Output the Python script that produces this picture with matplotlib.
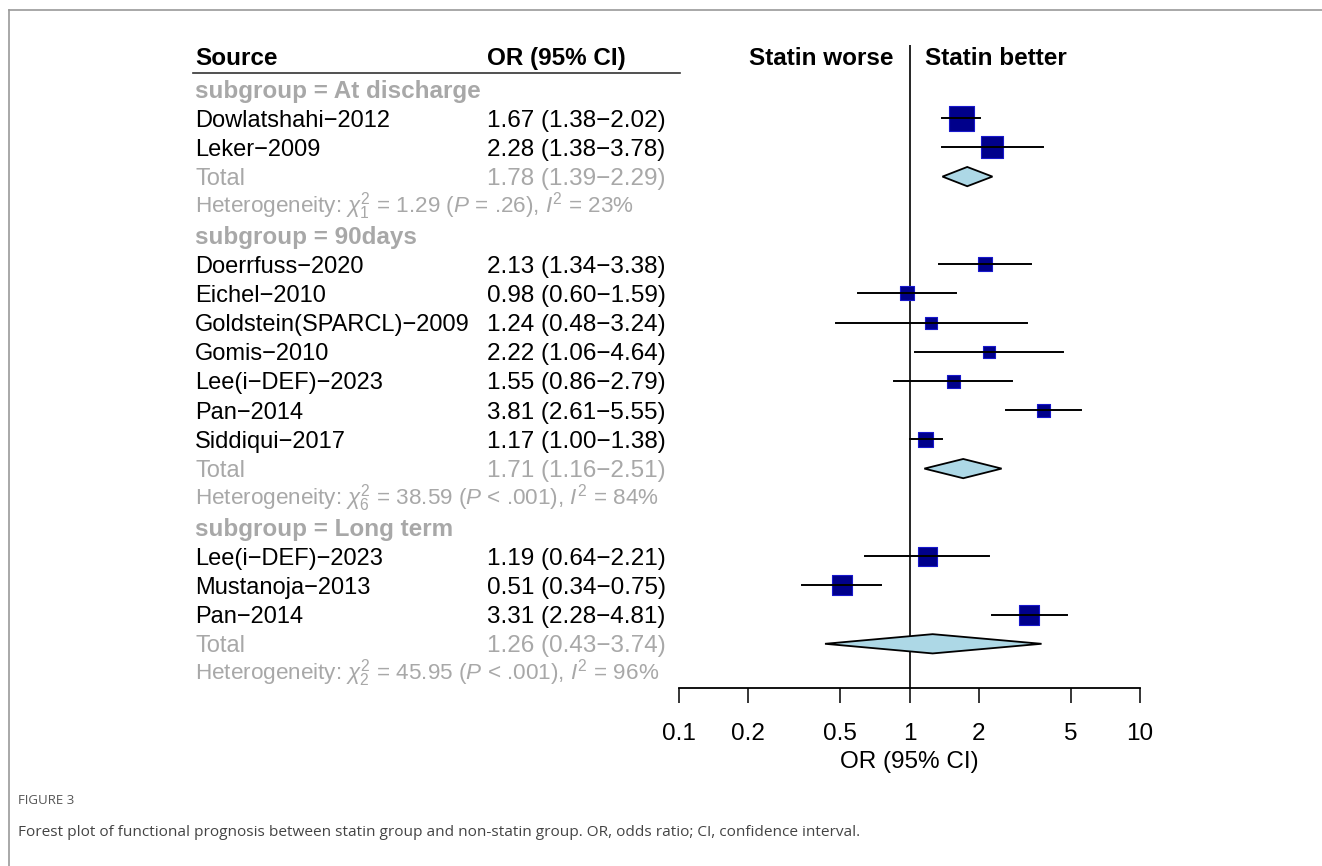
import matplotlib
matplotlib.use("Agg")
import matplotlib.pyplot as plt
from matplotlib.lines import Line2D
from matplotlib.patches import Polygon
from matplotlib.transforms import blended_transform_factory
import numpy as np

plt.rcParams['font.family'] = ['Liberation Sans', 'DejaVu Sans']
plt.rcParams['mathtext.fontset'] = 'custom'
plt.rcParams['mathtext.rm'] = 'Liberation Sans'
plt.rcParams['mathtext.it'] = 'Liberation Sans:italic'
plt.rcParams['mathtext.bf'] = 'Liberation Sans:bold'

# ---------------- data ----------------
subgroups = ["subgroup = At discharge", "subgroup = 90days", "subgroup = Long term"]
study_names = [
    ["Dowlatshahi\u22122012", "Leker\u22122009"],
    ["Doerrfuss\u22122020", "Eichel\u22122010", "Goldstein(SPARCL)\u22122009",
     "Gomis\u22122010", "Lee(i\u2212DEF)\u22122023", "Pan\u22122014", "Siddiqui\u22122017"],
    ["Lee(i\u2212DEF)\u22122023", "Mustanoja\u22122013", "Pan\u22122014"],
]
study_or = [[1.67, 2.28], [2.13, 0.98, 1.24, 2.22, 1.55, 3.81, 1.17], [1.19, 0.51, 3.31]]
study_lo = [[1.38, 1.38], [1.34, 0.60, 0.48, 1.06, 0.86, 2.61, 1.00], [0.64, 0.34, 2.28]]
study_hi = [[2.02, 3.78], [3.38, 1.59, 3.24, 4.64, 2.79, 5.55, 1.38], [2.21, 0.75, 4.81]]
# relative box size (weight), in pixels of box side
study_box = [[25, 23], [14, 14, 12, 12, 13, 13, 15], [19, 20, 20]]
total_or = [1.78, 1.71, 1.26]
total_lo = [1.39, 1.16, 0.43]
total_hi = [2.29, 2.51, 3.74]
het_df = [1, 6, 2]
het_chi = ["1.29", "38.59", "45.95"]
het_p = ["= .26", "< .001", "< .001"]
het_i2 = [23, 84, 96]
xticks = [0.1, 0.2, 0.5, 1, 2, 5, 10]
xticklabels = ["0.1", "0.2", "0.5", "1", "2", "5", "10"]

# ---------------- figure ----------------
W, H = 1322, 866
fig = plt.figure(figsize=(W / 100, H / 100), dpi=100)

row0_px, row_h = 89.0, 29.2
top_px, bot_px = 45.0, 688.0
x01_px, x10_px = 679.0, 1140.0
ax = fig.add_axes([x01_px / W, 1 - bot_px / H, (x10_px - x01_px) / W, (bot_px - top_px) / H])
ax.set_xscale('log')
ax.set_xlim(0.1, 10)
ax.set_ylim((bot_px - row0_px) / row_h, (top_px - row0_px) / row_h)
for s in ['top', 'right', 'left']:
    ax.spines[s].set_visible(False)
ax.spines['bottom'].set_linewidth(1.3)
ax.set_yticks([])
ax.set_xticks(xticks)
ax.set_xticklabels(xticklabels)
ax.minorticks_off()
ax.tick_params(axis='x', direction='out', length=10.5, width=1.1, pad=15, labelsize=17.5)
ax.set_xlabel("OR (95% CI)", fontsize=17.5, labelpad=4)
ax.axvline(1, color='black', lw=1.2, zorder=1)

FS = 17
FS_HET = 16.2
GRAY = '#A8A8A8'
VA = 'center_baseline'
tr = blended_transform_factory(fig.transFigure, ax.transData)
xname = 195 / W
xor = 487 / W

# header
hy = -1.03
ax.text(xname, hy, "Source", transform=tr, fontsize=17.5, fontweight='bold', va='center', ha='left')
ax.text(xor, hy, "OR (95% CI)", transform=tr, fontsize=17.5, fontweight='bold', va='center', ha='left')
fig.add_artist(Line2D([193 / W, 680 / W], [1 - 72.5 / H, 1 - 72.5 / H], color='#333333', lw=1.2))
ax.text(893 / W, hy, "Statin worse", transform=tr, fontsize=17.5, fontweight='bold', va='center', ha='right')
ax.text(925 / W, hy, "Statin better", transform=tr, fontsize=17.5, fontweight='bold', va='center', ha='left')

row = 0
for g in range(len(subgroups)):
    ax.text(xname, row, subgroups[g], transform=tr, fontsize=17.5, fontweight='bold',
            color=GRAY, va=VA, ha='left')
    row += 1
    for i, name in enumerate(study_names[g]):
        o, lo, hi = study_or[g][i], study_lo[g][i], study_hi[g][i]
        ax.text(xname, row, name, transform=tr, fontsize=FS, va=VA, ha='left')
        ax.text(xor, row, f"{o:.2f} ({lo:.2f}\u2212{hi:.2f})", transform=tr, fontsize=17.5,
                va=VA, ha='left')
        side_pt = study_box[g][i] * 0.72
        ax.scatter([o], [row], marker='s', s=side_pt ** 2, facecolor='#00008B',
                   edgecolor='#1818CC', linewidth=0.8, zorder=3)
        ax.plot([lo, hi], [row, row], color='black', lw=1.4, zorder=4)
        row += 1
    # total
    ax.text(xname, row, "Total", transform=tr, fontsize=FS, color=GRAY, va=VA, ha='left')
    ax.text(xor, row, f"{total_or[g]:.2f} ({total_lo[g]:.2f}\u2212{total_hi[g]:.2f})",
            transform=tr, fontsize=17.5, color=GRAY, va=VA, ha='left')
    h = 0.33
    diamond = Polygon([[total_lo[g], row], [total_or[g], row - h], [total_hi[g], row],
                       [total_or[g], row + h]], closed=True, facecolor='#ADD8E6',
                      edgecolor='black', lw=1.3, zorder=3)
    ax.add_patch(diamond)
    row += 1
    het = (r"Heterogeneity: $\chi^2_{%d}$ = %s ($P$ %s), $I^2$ = %d%%"
           % (het_df[g], het_chi[g], het_p[g], het_i2[g]))
    ax.text(xname, row, het, transform=tr, fontsize=FS_HET, color=GRAY, va='center', ha='left')
    row += 1

# figure frame and caption
fig.add_artist(Line2D([9 / W, 1], [1 - 10 / H, 1 - 10 / H], color='#9A9A9A', lw=1.2))
fig.add_artist(Line2D([9 / W, 9 / W], [0, 1 - 10 / H], color='#9A9A9A', lw=1.2))
fig.text(18 / W, 1 - 800 / H, "FIGURE 3", fontsize=9.5, color='#555555', va='center',
         ha='left', family=['Open Sans', 'DejaVu Sans'])
fig.text(18 / W, 1 - 833 / H,
         "Forest plot of functional prognosis between statin group and non-statin group. "
         "OR, odds ratio; CI, confidence interval.",
         fontsize=11.1, color='#444444', va='center', ha='left', family=['Open Sans', 'DejaVu Sans'])

fig.savefig("out.png", dpi=100)
